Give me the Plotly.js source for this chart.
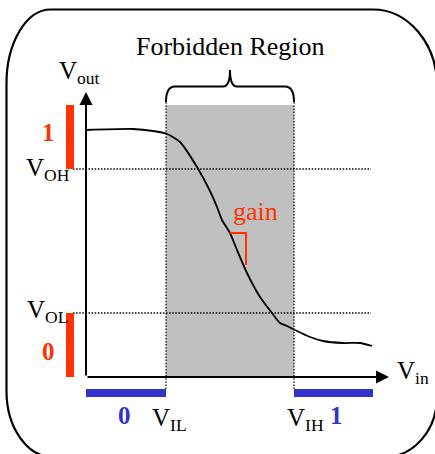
<!DOCTYPE html>
<html>
<head>
<meta charset="utf-8">
<script src="https://cdn.plot.ly/plotly-3.0.1.min.js"></script>
<style>html,body{margin:0;padding:0;background:#fff;}#chart{width:435px;height:454px;}</style>
</head>
<body>
<div id="chart"></div>
<script>
// ---- data (Vin / Vout units) ----
const vin  = [0.00, 0.47, 0.67, 0.81, 0.94, 1.11, 1.24, 1.31, 1.36, 1.44, 1.51, 1.61, 1.74, 1.86, 1.94, 2.01, 2.09, 2.24, 2.37, 2.57, 2.74, 2.86];
const vout = [2.47, 2.48, 2.46, 2.43, 2.35, 2.10, 1.86, 1.70, 1.57, 1.44, 1.27, 1.04, 0.80, 0.64, 0.54, 0.51, 0.47, 0.40, 0.36, 0.34, 0.34, 0.31];
const VIL = 0.80, VIH = 2.08, VOL = 0.64, VOH = 2.08;
const V_TOP = 2.72;        // top of the forbidden region / logic-1 band
const VIN_MAX = 2.87;      // end of the logic-1 input band
const X_TIP = 3.03, Y_TIP = 2.85;   // axis arrow tips
const gainX = [1.44, 1.60, 1.60];
const gainY = [1.44, 1.44, 1.12];
const outLabels = ['1', '0'];
const inLabels = ['0', '1'];

const RED = '#ff3300', BLUE = '#3333cc';
const FONT = 'Liberation Serif';
const W = 435, H = 454;

// frame (pixel helper -> paper)
function P(px, py) { return (px / W).toFixed(4) + ',' + (1 - py / H).toFixed(4); }
const L = 6.5, T = 9.5, R = 437, B = 457;
const k = 0.45;
function frame() {
  const tl = {rx: 44, ry: 74}, tr = {rx: 64, ry: 76}, br = {rx: 52, ry: 60}, bl = {rx: 46, ry: 66};
  let p = 'M' + P(L, T + tl.ry);
  p += ' C' + P(L, T + tl.ry * k) + ' ' + P(L + tl.rx * k, T) + ' ' + P(L + tl.rx, T);
  p += ' L' + P(R - tr.rx, T);
  p += ' C' + P(R - tr.rx * k, T) + ' ' + P(R, T + tr.ry * k) + ' ' + P(R, T + tr.ry);
  p += ' L' + P(R, B - br.ry);
  p += ' C' + P(R, B - br.ry * k) + ' ' + P(R - br.rx * k, B) + ' ' + P(R - br.rx, B);
  p += ' L' + P(L + bl.rx, B);
  p += ' C' + P(L + bl.rx * k, B) + ' ' + P(L, B - bl.ry * k) + ' ' + P(L, B - bl.ry);
  p += ' Z';
  return p;
}

const mid = (VIL + VIH) / 2;
const bY0 = 2.75, bY1 = 2.905, bTip = 3.07;
const brace = `M${VIL},${bY0} Q${VIL},${bY1} ${VIL + 0.09},${bY1} L${mid - 0.07},${bY1} Q${mid},${bY1} ${mid},${bTip} Q${mid},${bY1} ${mid + 0.07},${bY1} L${VIH - 0.09},${bY1} Q${VIH},${bY1} ${VIH},${bY0}`;

const dotted = {color: '#000', width: 1.5, dash: '1.5px,1.6px'};
const shapes = [
  {type: 'rect', xref: 'x', yref: 'y', x0: VIL, x1: VIH, y0: 0, y1: V_TOP, fillcolor: '#c0c0c0', line: {width: 0}, layer: 'below'},
  {type: 'line', xref: 'x', yref: 'y', x0: VIL, x1: VIL, y0: -0.12, y1: 2.77, line: {color: '#000', width: 1.2, dash: '1.5px,1.6px'}},
  {type: 'line', xref: 'x', yref: 'y', x0: VIH, x1: VIH, y0: -0.12, y1: 2.77, line: {color: '#000', width: 1.2, dash: '1.5px,1.6px'}},
  {type: 'line', xref: 'x', yref: 'y', x0: -0.13, x1: 2.85, y0: VOH, y1: VOH, line: dotted},
  {type: 'line', xref: 'x', yref: 'y', x0: -0.13, x1: 2.85, y0: VOL, y1: VOL, line: dotted},
  {type: 'rect', xref: 'x', yref: 'y', x0: -0.20, x1: -0.12, y0: VOH, y1: V_TOP, fillcolor: RED, line: {width: 0}},
  {type: 'rect', xref: 'x', yref: 'y', x0: -0.20, x1: -0.12, y0: 0, y1: VOL, fillcolor: RED, line: {width: 0}},
  {type: 'rect', xref: 'x', yref: 'y', x0: 0, x1: VIL, y0: -0.20, y1: -0.12, fillcolor: BLUE, line: {width: 0}},
  {type: 'rect', xref: 'x', yref: 'y', x0: VIH, x1: VIN_MAX, y0: -0.20, y1: -0.12, fillcolor: BLUE, line: {width: 0}},
  {type: 'path', xref: 'x', yref: 'y', path: brace, line: {color: '#000', width: 2}},
  {type: 'path', xref: 'paper', yref: 'paper', path: frame(), line: {color: '#000', width: 2.2}}
];

function txt(text, x, y, size, color, xanchor, bold) {
  return {text: text, x: x, y: y, xref: 'x', yref: 'y', showarrow: false,
          xanchor: xanchor || 'center', yanchor: 'middle',
          font: {family: FONT, size: size, color: color || '#000', weight: bold ? 'bold' : 'normal'}};
}
function px2x(px) { return (px - 86) / 100; }
function py2y(py) { return (377 - py) / 100; }

const annotations = [
  // axes with arrowheads
  {x: 0, y: Y_TIP, ax: 0, ay: 0, axref: 'x', ayref: 'y', xref: 'x', yref: 'y', text: '', showarrow: true,
   arrowhead: 2, arrowsize: 1.3, arrowwidth: 2, arrowcolor: '#000', standoff: 0},
  {x: X_TIP, y: 0, ax: 0, ay: 0, axref: 'x', ayref: 'y', xref: 'x', yref: 'y', text: '', showarrow: true,
   arrowhead: 2, arrowsize: 1.3, arrowwidth: 2, arrowcolor: '#000', standoff: 0},
  txt('Forbidden Region', mid, py2y(46), 26),
  txt('V<sub>out</sub>', px2x(57), py2y(72), 25, '#000', 'left'),
  txt('V<sub>OH</sub>', px2x(24), py2y(169), 25, '#000', 'left'),
  txt('V<sub>OL</sub>', px2x(25), py2y(311), 25, '#000', 'left'),
  txt('V<sub>in</sub>', px2x(395), py2y(372), 25, '#000', 'left'),
  txt('V<sub>IL</sub>', px2x(150), py2y(419), 25, '#000', 'left'),
  txt('V<sub>IH</sub>', px2x(285), py2y(419), 25, '#000', 'left'),
  txt(outLabels[0], px2x(48), py2y(132), 25, RED, 'center', true),
  txt(outLabels[1], px2x(48), py2y(351), 25, RED, 'center', true),
  txt(inLabels[0], px2x(124), py2y(415), 25, BLUE, 'center', true),
  txt(inLabels[1], px2x(336), py2y(415), 25, BLUE, 'center', true),
  txt('gain', px2x(231), py2y(211), 26, RED, 'left')
];

const traces = [
  {x: vin, y: vout, type: 'scatter', mode: 'lines', line: {color: '#000', width: 1.8, shape: 'spline', smoothing: 0.6}, hoverinfo: 'skip'},
  {x: gainX, y: gainY, type: 'scatter', mode: 'lines', line: {color: RED, width: 2}, hoverinfo: 'skip'}
];

const layout = {
  width: W, height: H, margin: {l: 0, r: 0, t: 0, b: 0},
  paper_bgcolor: '#fff', plot_bgcolor: 'rgba(0,0,0,0)', showlegend: false,
  font: {family: FONT},
  xaxis: {range: [-0.86, 3.49], visible: false, fixedrange: true},
  yaxis: {range: [-0.77, 3.77], visible: false, fixedrange: true},
  shapes: shapes, annotations: annotations
};
Plotly.newPlot('chart', traces, layout, {displayModeBar: false});
</script>
</body>
</html>
